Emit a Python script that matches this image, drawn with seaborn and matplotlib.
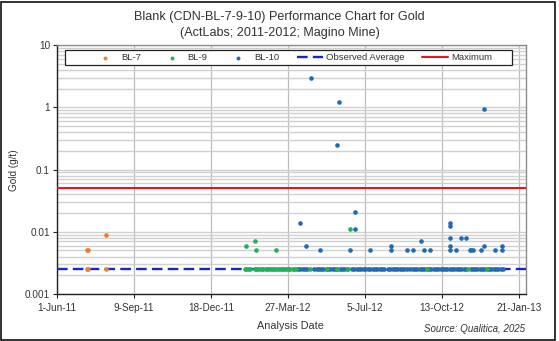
import matplotlib
matplotlib.use("Agg")
import matplotlib.pyplot as plt
import matplotlib.dates as mdates
from matplotlib.patches import Rectangle
from matplotlib.ticker import LogLocator, FixedFormatter, FixedLocator, NullFormatter
import numpy as np
import pandas as pd
import seaborn as sns

# ---- Blank assay results (Au, g/t) by analysis date ----
bl7_dates = ["2011-07-10", "2011-07-11", "2011-07-10", "2011-07-11",
             "2011-08-03", "2011-08-03"]
bl7_au = [0.005, 0.005, 0.0025, 0.0025, 0.009, 0.0025]

bl9_dates = ["2012-02-02", "2012-02-13", "2012-02-14", "2012-03-12", "2012-06-15",
             "2012-01-31", "2012-02-02", "2012-02-04", "2012-02-06", "2012-02-13",
             "2012-02-15", "2012-02-17", "2012-02-20", "2012-02-22", "2012-02-24",
             "2012-02-27", "2012-02-29", "2012-03-02", "2012-03-05", "2012-03-07",
             "2012-03-09", "2012-03-12", "2012-03-14", "2012-03-16", "2012-03-19",
             "2012-03-21", "2012-03-23", "2012-03-26", "2012-03-28", "2012-03-30",
             "2012-04-02", "2012-04-04", "2012-04-06", "2012-04-25", "2012-05-17",
             "2012-05-29", "2012-06-13", "2012-09-24", "2012-11-16", "2012-12-10"]
bl9_au = [0.006, 0.007, 0.005, 0.005, 0.011] + [0.0025] * 35

bl10_dates = ["2012-04-11", "2012-04-19", "2012-05-07", "2012-04-26", "2012-05-29",
              "2012-06-01", "2012-06-15", "2012-06-22", "2012-06-22", "2012-07-11",
              "2012-08-08", "2012-08-08", "2012-08-29", "2012-09-05", "2012-09-16",
              "2012-09-19", "2012-09-27", "2012-10-23", "2012-10-23", "2012-10-23",
              "2012-10-23", "2012-10-23", "2012-10-31", "2012-11-07", "2012-11-13",
              "2012-11-18", "2012-11-22", "2012-12-06", "2012-12-06", "2012-12-21",
              "2012-12-30", "2012-12-30", "2012-11-20", "2012-12-02",
              "2012-04-09", "2012-04-12", "2012-04-15", "2012-04-18", "2012-04-20",
              "2012-04-30", "2012-05-03", "2012-05-06", "2012-05-09", "2012-05-12",
              "2012-05-15", "2012-05-18", "2012-05-21", "2012-05-24", "2012-05-27",
              "2012-05-30", "2012-06-02", "2012-06-05", "2012-06-08", "2012-06-11",
              "2012-06-18", "2012-06-21", "2012-06-24", "2012-06-27", "2012-06-30",
              "2012-07-03", "2012-07-05", "2012-07-09", "2012-07-12", "2012-07-15",
              "2012-07-18", "2012-07-21", "2012-07-24", "2012-07-27", "2012-07-30",
              "2012-08-04", "2012-08-07", "2012-08-10", "2012-08-13", "2012-08-16",
              "2012-08-19", "2012-08-22", "2012-08-25", "2012-08-28", "2012-09-02",
              "2012-09-05", "2012-09-08", "2012-09-11", "2012-09-14", "2012-09-17",
              "2012-09-20", "2012-09-23", "2012-09-26", "2012-09-29", "2012-10-02",
              "2012-10-05", "2012-10-08", "2012-10-11", "2012-10-14", "2012-10-17",
              "2012-10-20", "2012-10-23", "2012-10-26", "2012-10-29", "2012-11-01",
              "2012-11-04", "2012-11-07", "2012-11-10", "2012-11-13", "2012-11-19",
              "2012-11-22", "2012-11-25", "2012-11-28", "2012-12-01", "2012-12-04",
              "2012-12-07", "2012-12-10", "2012-12-13", "2012-12-16", "2012-12-19",
              "2012-12-22", "2012-12-25", "2012-12-28", "2012-12-31"]
bl10_au = [0.014, 0.006, 0.005, 2.9, 0.25,
           1.2, 0.005, 0.021, 0.011, 0.005,
           0.006, 0.005, 0.005, 0.005, 0.007,
           0.005, 0.005, 0.014, 0.0125, 0.008,
           0.006, 0.005, 0.005, 0.008, 0.008,
           0.005, 0.005, 0.93, 0.006, 0.005,
           0.006, 0.005, 0.005, 0.005] + [0.0025] * 84

observed_average = 0.0025
maximum_limit = 0.05

tick_dates = ["2011-06-01", "2011-09-09", "2011-12-18", "2012-03-27",
              "2012-07-05", "2012-10-13", "2013-01-21"]
tick_labels = ["1-Jun-11", "9-Sep-11", "18-Dec-11", "27-Mar-12",
               "5-Jul-12", "13-Oct-12", "21-Jan-13"]
y_ticks = [0.001, 0.01, 0.1, 1, 10]
y_tick_labels = ["0.001", "0.01", "0.1", "1", "10"]

series = [("BL-7", bl7_dates, bl7_au, "#ED7D31", 4),
          ("BL-9", bl9_dates, bl9_au, "#22B05A", 5),
          ("BL-10", bl10_dates, bl10_au, "#1F6CB4", 4.5)]

# ---- figure ----
sns.set_theme(style="white")
plt.rcParams["font.family"] = ["Liberation Sans", "DejaVu Sans"]
text_col = "#333333"
W, H = 559, 341

fig = plt.figure(figsize=(W / 100, H / 100), dpi=100)
ax = fig.add_axes([57 / W, 1 - 294 / H, 469 / W, 249 / H])

for name, d, v, col, z in series:
    df = pd.DataFrame({"date": pd.to_datetime(d), "au": v})
    sns.scatterplot(data=df, x="date", y="au", ax=ax, color=col, s=11,
                    linewidth=0, label=name, zorder=z, legend=False)

ax.axhline(observed_average, color="#1428C8", lw=1.7, dashes=(4.5, 2.2),
           zorder=3, label="Observed Average")
ax.axhline(maximum_limit, color="#E8141E", lw=1.5, zorder=3, label="Maximum")

ax.set_yscale("log")
ax.set_ylim(0.001, 10)
ax.set_xlim(pd.Timestamp("2011-06-01"), pd.Timestamp("2013-01-30"))

ax.yaxis.set_major_locator(FixedLocator(y_ticks))
ax.yaxis.set_major_formatter(FixedFormatter(y_tick_labels))
ax.yaxis.set_minor_locator(LogLocator(base=10, subs=np.arange(2, 10)))
ax.yaxis.set_minor_formatter(NullFormatter())
ax.xaxis.set_major_locator(FixedLocator(mdates.date2num(pd.to_datetime(tick_dates))))
ax.xaxis.set_major_formatter(FixedFormatter(tick_labels))

ax.grid(True, axis="y", which="both", color="#D0D0D0", lw=1.0, zorder=0)
ax.grid(True, axis="x", which="major", color="#BDBDBD", lw=0.9, zorder=0)
ax.set_axisbelow(True)

ax.tick_params(axis="both", which="major", direction="out", length=3, width=0.8,
               color="#222222", labelsize=7.2, labelcolor=text_col, pad=2)
ax.tick_params(axis="x", which="major", pad=3.5)
ax.tick_params(axis="y", which="minor", length=0)
ax.tick_params(bottom=True, left=True)
for side in ("left", "bottom"):
    ax.spines[side].set_color("#222222")
    ax.spines[side].set_linewidth(1.0)
for side in ("top", "right"):
    ax.spines[side].set_color("#8C8C8C")
    ax.spines[side].set_linewidth(1.0)

ax.set_xlabel("")
ax.set_ylabel("")
fig.text(290 / W, 1 - 326 / H, "Analysis Date", ha="center", va="center",
         fontsize=7.8, color=text_col)
fig.text(14 / W, 1 - 170 / H, "Gold (g/t)", ha="center", va="center",
         rotation=90, fontsize=7.2, color=text_col)

# legend box across the top of the plot area
box = Rectangle((8 / 469, (294 - 65) / 249), 447 / 469, 15 / 249,
                transform=ax.transAxes, facecolor="white", edgecolor="#222222",
                lw=0.9, zorder=9, clip_on=False)
ax.add_patch(box)
handles, labels = ax.get_legend_handles_labels()
order = ["BL-7", "BL-9", "BL-10", "Observed Average", "Maximum"]
hmap = dict(zip(labels, handles))
leg = ax.legend([hmap[k] for k in order], order, ncol=5, mode="expand",
                loc="center left",
                bbox_to_anchor=(35 / 469, (294 - 57.5) / 249, 400 / 469, 0.0),
                fontsize=6.8, frameon=False, handlelength=2.75,
                handletextpad=0.3, borderpad=0.0, borderaxespad=0.0,
                markerscale=0.85, labelcolor=text_col)
leg.set_zorder(10)

fig.text(0.5, 1 - 17 / H, "Blank (CDN-BL-7-9-10) Performance Chart for Gold",
         ha="center", va="center", fontsize=9.1, color=text_col)
fig.text(0.5, 1 - 33 / H, "(ActLabs; 2011-2012; Magino Mine)",
         ha="center", va="center", fontsize=9.1, color=text_col)
fig.text(525 / W, 1 - 329 / H, "Source: Qualitica, 2025", ha="right",
         va="center", fontsize=7.0, style="italic", color=text_col)

fig.patches.append(Rectangle((0.5 / W, 1.5 / H), 554 / W, 338 / H,
                             transform=fig.transFigure, fill=False,
                             edgecolor="#111111", lw=1.2))

fig.savefig("out.png", dpi=100)
